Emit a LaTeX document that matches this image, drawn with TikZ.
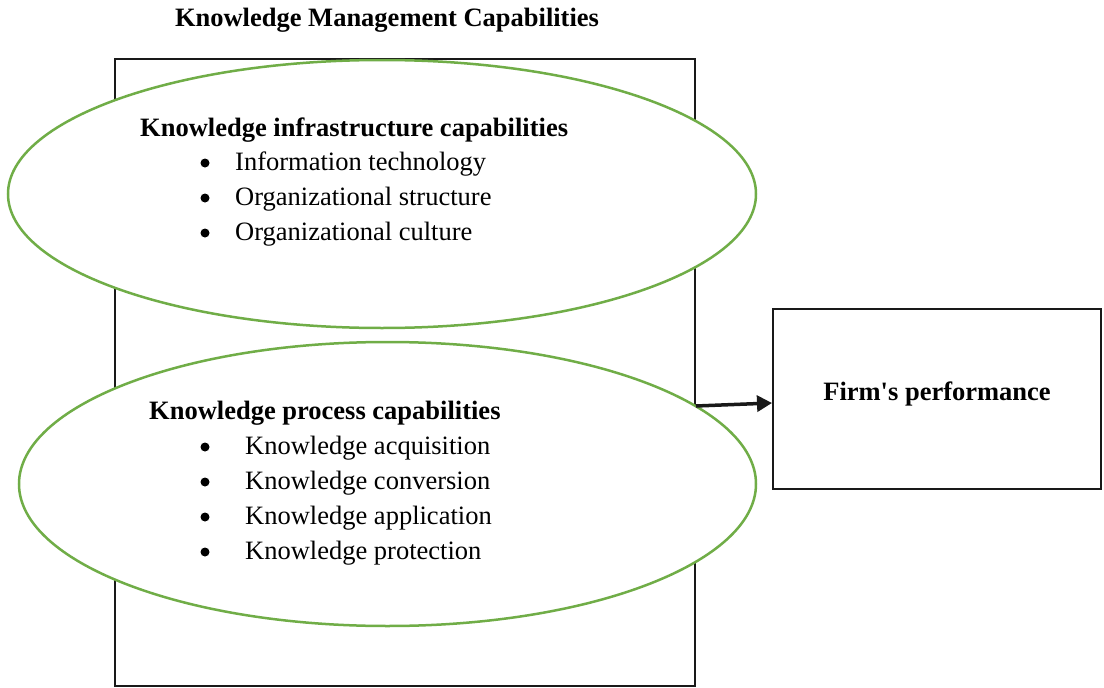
\documentclass[tikz,border=0pt]{standalone}
\usepackage{fontspec}
\setmainfont{Liberation Serif}
\usetikzlibrary{shapes.geometric,arrows.meta}
\definecolor{kmgreen}{RGB}{112,173,71}
\begin{document}
\begin{tikzpicture}[x=1pt,y=-1pt,
  txt/.style={anchor=base west,inner sep=0pt,font=\fontsize{26.5}{30}\selectfont},
  head/.style={txt,font=\fontsize{26.5}{30}\selectfont\bfseries},
  bul/.style={circle,fill=black,inner sep=0pt,minimum size=9pt},
  oval/.style={ellipse,draw=kmgreen,line width=2.5pt,fill=white,inner sep=0pt},
  frame/.style={draw=black!90,line width=2pt}]
\useasboundingbox (0,0) rectangle (1104,688);
% title and outer frame
\node[head,anchor=base] (title) at (387,27) {Knowledge Management Capabilities};
\node[frame,minimum width=580pt,minimum height=627pt,inner sep=0pt] (kmc) at (405,372.5) {};
% infrastructure capabilities
\node[oval,minimum width=748pt,minimum height=268pt] (infra) at (382,194) {};
\node[head] (infrah) at (140,136) {Knowledge infrastructure capabilities};
\foreach \t/\yy [count=\i] in {Information technology/170,Organizational structure/205,Organizational culture/240}{
  \node[bul] (ib\i) at (205,\yy-7) {};
  \node[txt] (it\i) at (235,\yy) {\t};
}
% process capabilities
\node[oval,minimum width=737pt,minimum height=284pt] (proc) at (387.5,484) {};
\node[head] (proch) at (149,419) {Knowledge process capabilities};
\foreach \t/\yy [count=\i] in {Knowledge acquisition/454,Knowledge conversion/489,Knowledge application/524,Knowledge protection/559}{
  \node[bul] (pb\i) at (205,\yy-7) {};
  \node[txt] (pt\i) at (245,\yy) {\t};
}
% outcome
\node[frame,minimum width=328pt,minimum height=180pt,inner sep=0pt] (firm) at (937,399) {};
\node[head,anchor=base] (firmt) at (937,400) {Firm\textquotesingle s performance};
\coordinate (arrS) at (kmc.east |- 0,406);
\coordinate (arrE) at (firm.west |- 0,403);
\draw[line width=3.5pt,black!90,-{Triangle[length=15pt,width=16pt]}] (arrS) -- (arrE);
\end{tikzpicture}
\end{document}
